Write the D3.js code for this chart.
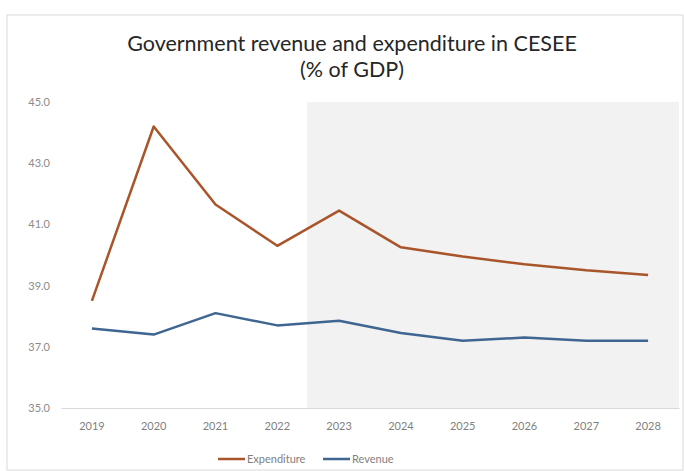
<!DOCTYPE html>
<html><head><meta charset="utf-8">
<script src="https://cdn.jsdelivr.net/npm/d3@7"></script>
<style>body{margin:0;background:#fff;}svg{display:block;font-family:Lato,"Open Sans",sans-serif;}</style>
</head><body>
<svg id="c" width="684" height="471"></svg>
<script>
const years = ["2019","2020","2021","2022","2023","2024","2025","2026","2027","2028"];
const expenditure = [38.5, 44.2, 41.65, 40.3, 41.45, 40.25, 39.95, 39.7, 39.5, 39.35];
const revenue = [37.6, 37.4, 38.1, 37.7, 37.85, 37.45, 37.2, 37.3, 37.2, 37.2];
const yTicks = [35, 37, 39, 41, 43, 45];
const shadedFrom = "2023";
const title = ["Government revenue and expenditure in CESEE", "(% of GDP)"];

const svg = d3.select("#c");
svg.append("rect").attr("x",7).attr("y",15).attr("width",676).attr("height",455)
  .attr("fill","#fff").attr("stroke","#d9d9d9");

const x = d3.scaleBand().domain(years).range([61,679]);
const y = d3.scaleLinear().domain([35,45]).range([408,102]);

// shaded forecast area
svg.append("rect")
  .attr("x", x(shadedFrom)-1).attr("y", y(45))
  .attr("width", x.range()[1]-x(shadedFrom)+1).attr("height", y(35)-y(45))
  .attr("fill","#f2f2f2");

// title
svg.append("g").selectAll("text").data(title).join("text")
  .attr("x",352).attr("y",(d,i)=>51+i*26).attr("text-anchor","middle")
  .attr("font-size",21.5).attr("fill","#262626").text(d=>d);

// y axis
const ya = svg.append("g").attr("transform","translate(52,0)")
  .call(d3.axisLeft(y).tickValues(yTicks).tickSize(0).tickPadding(2).tickFormat(d3.format(".1f")));
ya.select(".domain").remove();
ya.selectAll("text").attr("font-size",11).attr("fill","#8c8c8c").attr("font-family","Lato,sans-serif");

// x axis
const xa = svg.append("g").attr("transform","translate(0,408)")
  .call(d3.axisBottom(x).tickSize(0).tickPadding(14));
xa.select(".domain").attr("stroke","#d9d9d9");
xa.selectAll("text").attr("font-size",11).attr("fill","#7f7f7f").attr("font-family","Lato,sans-serif");

const line = d3.line().x((d,i)=>x(years[i])+x.bandwidth()/2).y(d=>y(d));
svg.append("path").datum(expenditure).attr("d",line).attr("fill","none")
  .attr("stroke","#a9552a").attr("stroke-width",2.5).attr("stroke-linejoin","round");
svg.append("path").datum(revenue).attr("d",line).attr("fill","none")
  .attr("stroke","#3f6690").attr("stroke-width",2.5).attr("stroke-linejoin","round");

// legend
const legend = [{name:"Expenditure",color:"#a9552a",x:218},{name:"Revenue",color:"#3f6690",x:323}];
const lg = svg.append("g").selectAll("g").data(legend).join("g")
  .attr("transform",d=>`translate(${d.x},459)`);
lg.append("line").attr("x1",0).attr("x2",27).attr("stroke",d=>d.color).attr("stroke-width",2.5);
lg.append("text").attr("x",29).attr("y",4).attr("font-size",11).attr("fill","#7f7f7f").text(d=>d.name);
</script>
</body></html>
